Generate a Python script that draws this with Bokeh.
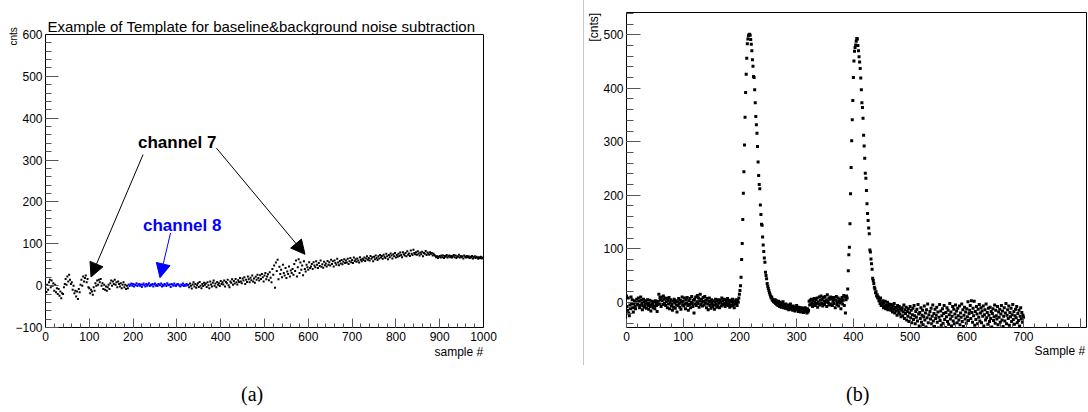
from bokeh.plotting import figure
from bokeh.layouts import row, column
from bokeh.models import (FixedTicker, Label, Arrow, NormalHead, Range1d, Title, Div,
                          LinearAxis, Span)
from bokeh.embed import file_html
from bokeh.resources import INLINE

# ---------------- data : panel (a)  (one value every 2 samples) ----------------
a_title = "Example of Template for baseline&background noise subtraction"
a_step = 2
a_ch7_early_start = 0
a_ch7_early = [
    -6, -15, 2, -10, 8, 14, -4, 12, 0, 6,
    -12, 2, -16, -6, -20, -8, -24, -14, -30, -18,
    -20, -4, 4, 16, 2, 22, 10, 26, 14, 4,
    8, -10, 0, -18, -12, -26, -14, -32, -8, -16,
    2, 14, 0, 22, 10, 18, 24, 8, 16, -4,
    -6, -18, -10, -14, -22, -4, -12, 6, 0, 12,
    2, 14, 8, 16, 0, 6, -8, 2, -10, -2,
    -12, -4, 2, -8, 6, 12, 0, 10, 4, 14,
    2, 8, -4, 10, 4, -2, 6, -6, 2, 8,
    -4, 2, -8, 0, -6]
a_ch8_start = 190
a_ch8 = [
    3, -1, 2, 5, 0, 4, -2, 3, 1, 6, -1, 2, 4, 0, 3, -3, 2, 5, 1, -2,
    4, 0, 3, 6, -1, 2, 1, 4, -2, 3, 5, 0, 2, -1, 4, 3, 1, 5, -2, 2,
    0, 4, 3, -1, 6, 2, 1, 3, -3, 4, 2, 0, 5, 1, -1, 3, 4, 2, 0, -2,
    3, 1, 5, -1, 2, 0, 4, 1]
a_ch7_late_start = 326
a_ch7_late = [
    2, -4, 5, 0, -7, 3, 8, -2, 4, -5, 1, 6, -3, 9, 0, -6, 4, -1, 7, 2,
    5, -3, 8, 1, -6, 10, 3, -2, 7, 12, 0, 5, -4, 9, 2, 6, -1, 11, 4, 8,
    3, 12, -2, 9, 6, 14, 1, -4, 10, 7, 15, 2, 11, 5, 16, 8, 3, 13, 9, 18,
    10, 6, 17, 12, 20, 4, 14, 9, 22, 15, 8, 19, 13, 24, 10, 17, 7, 21, 14, 26,
    18, 12, 25, 16, 28, 20, 10, 24, 30, 15, 22, 27, 13, 32, 19, 8, 40, 26, 48, -5,
    55, 35, 62, 15, 45, 28, 38, 20, 50, 30, 24, 42, 18, 34, 28, 46, 22, 36, 30, 40,
    26, 52, 35, 60, 22, 44, 63, 30, 55, 38, 48, 25, 58, 40, 34, 50, 44, 38, 56, 42,
    46, 52, 40, 56, 48, 44, 58, 50, 42, 54, 47, 60, 45, 51, 43, 57, 49, 53, 46, 59,
    50, 56, 48, 62, 52, 58, 46, 60, 54, 50, 64, 55, 49, 59, 53, 61, 51, 57, 63, 54,
    60, 55, 64, 52, 58, 66, 56, 61, 54, 67, 59, 63, 57, 65, 60, 55, 68, 62, 58, 64,
    61, 67, 59, 65, 70, 62, 66, 60, 71, 64, 68, 58, 69, 63, 72, 66, 61, 70, 65, 73,
    67, 71, 64, 74, 69, 66, 76, 70, 63, 73, 68, 77, 72, 65, 75, 70, 78, 67, 73, 69,
    76, 71, 79, 73, 68, 80, 75, 72, 78, 70, 82, 74, 77, 71, 84, 76, 73, 86, 78, 75,
    80, 74, 82, 77, 72, 79, 75, 81, 70, 78, 76, 83, 73, 79, 77, 74, 80, 76, 78, 72,
    76, 73, 71, 68, 70, 66, 69, 71, 67, 72, 68, 72, 66, 71, 69, 73, 67, 70, 72, 68,
    71, 67, 70, 73, 68, 72, 66, 70, 69, 74, 67, 71, 68, 70, 65, 72, 69, 67, 71, 68,
    70, 66, 69, 67, 71, 65, 68, 70, 66, 69, 67, 64, 68, 66, 69, 65, 67]
a_xticks = [0, 100, 200, 300, 400, 500, 600, 700, 800, 900, 1000]
a_yticks = [-100, 0, 100, 200, 300, 400, 500, 600]
a_xlabel = "sample #"
a_ylabel = "cnts"

# ---------------- data : panel (b)  (one value per sample, from sample 0) ----------------
b_base1 = [
    12, -8, -15, 8, -20, -25, -5, -12, 10, -3, 5, -10, -18, -2, 3, -8, -12, 0, 6, -5,
    -3, 8, 2, -10, -6, 10, 4, -2, -14, -7, 6, 1, -9, -4, 3, -11, -1, 5, -6, -13,
    -2, 4, -8, -16, -5, 2, -3, -10, 1, -7, -12, 3, -1, -6, -17, -4, 2, 15, -3, 9,
    5, -8, 10, 3, -4, 12, 6, -2, 8, -6, 1, 7, -10, 4, -3, 9, -12, 0, 5, -7,
    -4, -15, 2, -9, 6, -1, -11, 3, -5, -18, 1, -6, 7, -2, -9, 4, -13, 0, 10, -5,
    2, -7, 8, -3, -12, 5, -1, 9, -6, -15, 3, -4, 7, -10, 0, 11, -2, -8, 4, -20,
    6, -3, 10, -6, 1, 13, -2, 8, -9, 3, 15, -4, 6, 0, -7, 9, 2, -5, 11, -1,
    4, -10, 7, -3, -14, 2, 8, -6, 0, -11, 5, -2, -8, 3, -5, -13, 1, 6, -4, -9,
    2, -6, 5, -1, -10, 4, 0, -7, 8, -3, 3, -5, 6, -2, -8, 5, 1, -4, 7, -6,
    3, -2, -9, 4, -5, 1, -7, 6, 0, -4, -10, 2, -3, 5, -1, -6, 4, 0, 8, 15]
b_peak1 = [
    22, 31, 47, 80, 110, 155, 204, 244, 294, 346, 392, 426, 456, 483, 492, 498, 500, 501,
    499, 491, 482, 470, 453, 441, 422, 420, 397, 373, 347, 332, 316, 291, 262, 237, 220,
    212, 182, 164, 146, 144, 122, 107, 95, 83, 75, 56, 50, 44, 35, 30, 26, 22, 18, 15,
    12, 8, 10, 4, 6, 1, 3]
b_tail1 = [
    0, 5, -2, 3, -4, 1, -6, 2, -3, -8, 0, -5, -9, -2, -7, 1, -10, -4, -6, -11,
    -3, -8, -12, -5, -9, -14, -6, -10, -3, -13, -8, -11, -15, -7, -12, -9, -16, -10, -13, -6,
    -14, -11, -17, -9, -15, -12, -18, -10, -14, -16, -11, -19, -13, -15, -10, -17, -14, -20, -12,
    -18, -15]
b_base2 = [
    2, -5, 4, -3, 6, -1, -8, 3, -4, 7, 0, -6, 5, -2, 8, -9, 1, -3, 10, -5,
    4, 12, -2, 6, -7, 9, 2, -4, 11, 0, 5, -8, 14, 3, -1, 8, -5, 6, 10, -3,
    7, -6, 2, 9, -2, 5, -10, 4, 11, -4, 1, 8, -7, 3, -1, 6, -12, 2, 9, -3,
    4, 13, -6, 10, -20, 5, 12, 8]
b_peak2 = [
    25, 59, 89, 103, 147, 203, 252, 302, 341, 377, 420, 451, 469, 476, 481, 488, 493, 492,
    480, 470, 459, 449, 437, 419, 397, 373, 364, 344, 312, 292, 269, 241, 232, 209, 184,
    166, 153, 139, 128, 98, 94, 81, 72, 62, 45, 41, 35, 28, 25, 18, 20, 12, 14, 8, 10, 3]
b_tail2 = [
    5, -2, 8, -6, 1, -4, 3, -10, -1, -7, 2, -12, -5, -9, 0, -14, -6, -3, -11, -8,
    -15, -4, -10, -18, -7, -13, -2, -20, -9, -16, -11, -24, -6, -14, -19, -8, -22, -12, -27, -15,
    -10, -25, -18, -5, -30, -14, -21, -9, -33, -17, -26, -12, -36, -20, -8, -29, -15, -38, -23, -11,
    -32, -6, -25, -40, -17, -28, -13, -35, -4, -22, -44, -19, -30, -10, -37, -24, -15, -42, -27, -7,
    -33, -20, -46, -14, -29, -3, -38, -23, -50, -17, -31, -11, -40, -26, -5, -35, -21, -45, -13, -30,
    -24, -9, -37, -18, -48, -28, -4, -34, -16, -43, -25, -12, -39, -21, -6, -32, -47, -19, -27, -10,
    -36, -15, -41, -23, -2, -31, -18, -44, -26, -8, -35, -13, -40, -22, -5, -29, -16, -38, -11, -25,
    -33, -7, -42, -20, -28, -3, -36, -14, -45, -24, -9, -31, -18, -39, -12, -27, 1, -34, -21, -15,
    -6, -30, 3, -19, -37, -11, -25, 2, -43, -17, -32, -8, -22, -40, -13, -28, -4, -35, -20, -10,
    -38, -16, -26, -7, -44, -23, -14, -33, -3, -29, -19, -41, -11, -24, -36, -9, -30, -17, -46, -21,
    -12, -34, -27, -5, -39, -15, -25, -31, -8, -42, -18, -28, -13, -37, -22, -6, -33, -16, -45, -26,
    -10, -35, -20, -2, -40, -24, -14, -30, -7, -43, -19, -27, -11, -36, -23, -4, -32, -17, -41, -25,
    -13, -29, -8, -38, -21, -34, -15, -44, -26, -10, -31, -19, -37, -24, -28]
b_xticks = [0, 100, 200, 300, 400, 500, 600, 700, 800]
b_yticks = [0, 100, 200, 300, 400, 500]
b_xlabel = "Sample #"
b_ylabel = "[cnts]"
captions = ["(a)", "(b)"]

# ---------------- geometry (pixels) ----------------
W_A, W_SEP, W_B = 583, 1, 504
H_PLOT, H_CAP = 380, 32
TOP, BOTTOM = 12, 327            # shared frame top / bottom of both plots
A_L, A_R, A_BOX_T = 45, 483, 34  # panel (a) box: its top edge is below the frame top
A_X0, A_X1, A_Y0, A_Y1 = 0, 1000, -100, 600
A_YTOP = A_Y1 + (A_BOX_T - TOP) * (A_Y1 - A_Y0) / (BOTTOM - A_BOX_T)
B_L, B_R = 41, 502
B_X0, B_X1, B_Y0, B_Y1 = 0, 811, -47, 541.5

FONT = "Liberation Sans"
SERIF = "Liberation Serif"


def ax(px):
    return A_X0 + (px - A_L) / (A_R - A_L) * (A_X1 - A_X0)


def ay(py):
    return A_Y1 - (py - A_BOX_T) / (BOTTOM - A_BOX_T) * (A_Y1 - A_Y0)


def style(p, xt, xminor, yt, yminor, ytick_len, xtick_len, hide=None):
    p.xgrid.visible = False
    p.ygrid.visible = False
    p.outline_line_color = "black"
    p.outline_line_width = 1
    p.background_fill_color = "white"
    p.border_fill_color = "white"
    for axis, ticks, minor, tl in ((p.xaxis[0], xt, xminor, xtick_len), (p.yaxis[0], yt, yminor, ytick_len)):
        axis.ticker = FixedTicker(ticks=ticks, minor_ticks=minor)
        axis.axis_line_color = None
        axis.major_tick_in = int(tl)
        axis.major_tick_out = 0
        axis.minor_tick_in = int(round(tl / 2))
        axis.minor_tick_out = 0
        axis.major_tick_line_color = "#555555"
        axis.minor_tick_line_color = "#555555"
        axis.major_label_text_font = FONT
        axis.major_label_text_font_size = "12px"
        axis.major_label_text_color = "black"
    p.yaxis[0].major_label_standoff = 3
    p.xaxis[0].major_label_standoff = 4
    if hide:
        p.xaxis[0].major_label_overrides = {h: "" for h in hide}


def title(text, standoff, offset, size="12px", font=FONT):
    return Title(text=text, align="left", standoff=standoff, offset=offset,
                 text_font=font, text_font_size=size, text_font_style="normal",
                 text_color="black")


# ---------------- panel (a) ----------------
pa = figure(width=W_A, height=H_PLOT, output_backend="svg", toolbar_location=None,
            title=None,
            x_range=Range1d(A_X0, A_X1), y_range=Range1d(A_Y0, A_YTOP),
            min_border_left=A_L, min_border_right=W_A - A_R,
            min_border_top=TOP, min_border_bottom=H_PLOT - BOTTOM)
style(pa, a_xticks, list(range(0, 1001, 20)), a_yticks, list(range(-100, 601, 20)),
      13, 9)
pa.outline_line_color = None
pa.yaxis[0].major_label_overrides = {-100: "\u2212100"}
pa.yaxis[0].bounds = (A_Y0, A_Y1)
pa.yaxis[0].axis_line_color = "black"
pa.xaxis[0].axis_line_color = "black"
raxis = LinearAxis(ticker=FixedTicker(ticks=[]), bounds=(A_Y0, A_Y1),
                   axis_line_color="black", major_tick_in=0, major_tick_out=0,
                   minor_tick_in=0, minor_tick_out=0, major_label_standoff=0)
pa.add_layout(raxis, "right")
pa.add_layout(Span(location=A_Y1, dimension="width", line_color="black", line_width=1))

x7a = list(range(a_ch7_early_start, a_ch7_early_start + a_step * len(a_ch7_early), a_step))
x8 = list(range(a_ch8_start, a_ch8_start + a_step * len(a_ch8), a_step))
x7b = list(range(a_ch7_late_start, a_ch7_late_start + a_step * len(a_ch7_late), a_step))
pa.scatter(x7a + x7b, a_ch7_early + a_ch7_late, marker="square", size=2,
           fill_color="black", line_color=None)
pa.scatter(x8, a_ch8, marker="square", size=2, fill_color="#0000ff", line_color=None)

pa.add_layout(Label(x=ax(47), y=ay(26), text=a_title, text_font=FONT,
                    text_font_size="15px", text_color="black",
                    text_align="left", text_baseline="alphabetic"))
pa.add_layout(title(a_xlabel, -2, 389), "below")
pa.add_layout(title(a_ylabel, -13, BOTTOM - 45, size="10px"), "left")

pa.add_layout(Label(x=ax(137.5), y=ay(141.5), text="channel 7", text_font=FONT,
                    text_font_size="17px", text_font_style="bold", text_color="black",
                    text_align="left", text_baseline="alphabetic"))
pa.add_layout(Label(x=ax(142.5), y=ay(224.5), text="channel 8", text_font=FONT,
                    text_font_size="17px", text_font_style="bold", text_color="#0000ff",
                    text_align="left", text_baseline="alphabetic"))
for (sx, sy, ex, ey, col) in ((142.6, 154, 90.5, 276.5, "black"),
                              (216, 147.7, 304.5, 253.8, "black"),
                              (170, 232.5, 159.5, 277.2, "#0000ff")):
    pa.add_layout(Arrow(x_start=ax(sx), y_start=ay(sy), x_end=ax(ex), y_end=ay(ey),
                        line_color=col, line_width=1,
                        end=NormalHead(size=14, fill_color=col, line_color=col, line_width=1)))

# ---------------- separator ----------------
sep = Div(text="", width=W_SEP, height=365, margin=(0, 0, 0, 0),
          styles={"background-color": "#c8c8c8"})

# ---------------- panel (b) ----------------
pb = figure(width=W_B, height=H_PLOT, output_backend="svg", toolbar_location=None,
            title=None,
            x_range=Range1d(B_X0, B_X1), y_range=Range1d(B_Y0, B_Y1),
            min_border_left=B_L, min_border_right=W_B - B_R,
            min_border_top=TOP, min_border_bottom=H_PLOT - BOTTOM)
style(pb, b_xticks, list(range(0, 801, 20)), b_yticks, list(range(-40, 541, 20)),
      14, 9, hide=[800])

b_y = b_base1 + b_peak1 + b_tail1 + b_base2 + b_peak2 + b_tail2
b_x = list(range(len(b_y)))
pb.scatter(b_x, b_y, marker="square", size=3, fill_color="black", line_color=None)

pb.add_layout(title(b_xlabel, -4, 408), "below")
pb.add_layout(title(b_ylabel, 0, BOTTOM - 41), "left")

# ---------------- captions ----------------
cap_style = {"font-family": SERIF, "font-size": "20px", "color": "black",
             "line-height": "23px", "white-space": "nowrap"}
cap_a = Div(text=captions[0], width=40, height=H_CAP - 3, margin=(3, 0, 0, 241),
            styles=cap_style)
cap_b = Div(text=captions[1], width=40, height=H_CAP - 3, margin=(3, 0, 0, 565),
            styles=cap_style)

layout = column(row(pa, sep, pb), row(cap_a, cap_b))
open("out.html", "w").write(file_html(layout, INLINE))
